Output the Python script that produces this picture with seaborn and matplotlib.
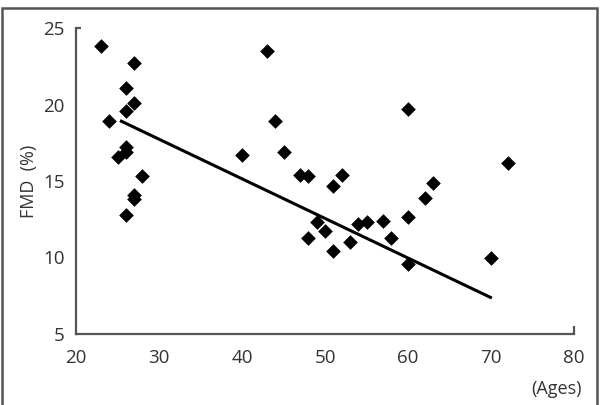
import matplotlib
matplotlib.use("Agg")
import matplotlib.pyplot as plt
from matplotlib.patches import Rectangle
import seaborn as sns
import pandas as pd

# Data
ages = [23, 24, 27, 26, 27, 26, 25, 26, 26, 28, 27, 27, 26,
        40, 43, 44, 45, 47, 48, 51, 52, 48, 49, 50, 51, 53,
        54, 55, 57, 58, 60, 60, 60, 62, 63, 70, 72]
fmd = [23.8, 18.9, 22.7, 21.1, 20.1, 19.6, 16.6, 16.9, 17.2, 15.3, 14.1, 13.8, 12.8,
       16.7, 23.5, 18.9, 16.9, 15.4, 15.3, 14.7, 15.4, 11.3, 12.3, 11.7, 10.4, 11.0,
       12.2, 12.3, 12.4, 11.3, 19.7, 12.65, 9.6, 13.9, 14.9, 10.0, 16.2]
trend_x = [25.3, 70.1]
trend_y = [18.95, 7.35]

x_ticks = [20, 30, 40, 50, 60, 70, 80]
y_ticks = [5, 10, 15, 20, 25]

df = pd.DataFrame({"Ages": ages, "FMD": fmd})
trend = pd.DataFrame({"x": trend_x, "y": trend_y})

sns.set_theme(style="white")
plt.rcParams['font.family'] = ['Open Sans', 'DejaVu Sans']

fig = plt.figure(figsize=(6.02, 4.05), dpi=100)
ax = fig.add_axes([76/602, 1-334/405, (574-76)/602, (334-28)/405])

sns.lineplot(data=trend, x="x", y="y", ax=ax, color="black", linewidth=2.2,
             solid_capstyle="butt", zorder=2)
sns.scatterplot(data=df, x="Ages", y="FMD", ax=ax, marker="D", color="black",
                s=56, edgecolor="black", linewidth=0, zorder=3)

ax.set_xlim(20, 80)
ax.set_ylim(5, 25)
ax.set_xticks(x_ticks)
ax.set_yticks(y_ticks)
ax.set_xticklabels([str(t) for t in x_ticks])
ax.set_yticklabels([str(t) for t in y_ticks])
ax.tick_params(axis="both", length=0, labelsize=13.5, labelcolor="#333333")
ax.tick_params(axis="x", pad=11)
ax.tick_params(axis="y", pad=8)
ax.set_xlabel("")
ax.set_ylabel("FMD  (%)", fontsize=13, color="#333333", labelpad=4)

for side in ["top", "right"]:
    ax.spines[side].set_visible(False)
for side in ["left", "bottom"]:
    ax.spines[side].set_color("#555555")
    ax.spines[side].set_linewidth(1.6)

# small end caps on the axes
ax.plot([20, 20.6], [25, 25], color="#555555", lw=1.6, clip_on=False,
        solid_capstyle="butt")
ax.plot([80, 80], [5, 5.5], color="#555555", lw=1.6, clip_on=False,
        solid_capstyle="butt")

fig.text(557/602, 1-389/405, "(Ages)", ha="center", va="center",
         fontsize=13, color="#333333")

# outer frame
fig.patches.append(Rectangle((2/602, -0.05), (597-2)/602, (405-8)/405 + 0.05,
                             transform=fig.transFigure, fill=False,
                             edgecolor="#555555", linewidth=1.8))

fig.savefig("out.png", dpi=100)
